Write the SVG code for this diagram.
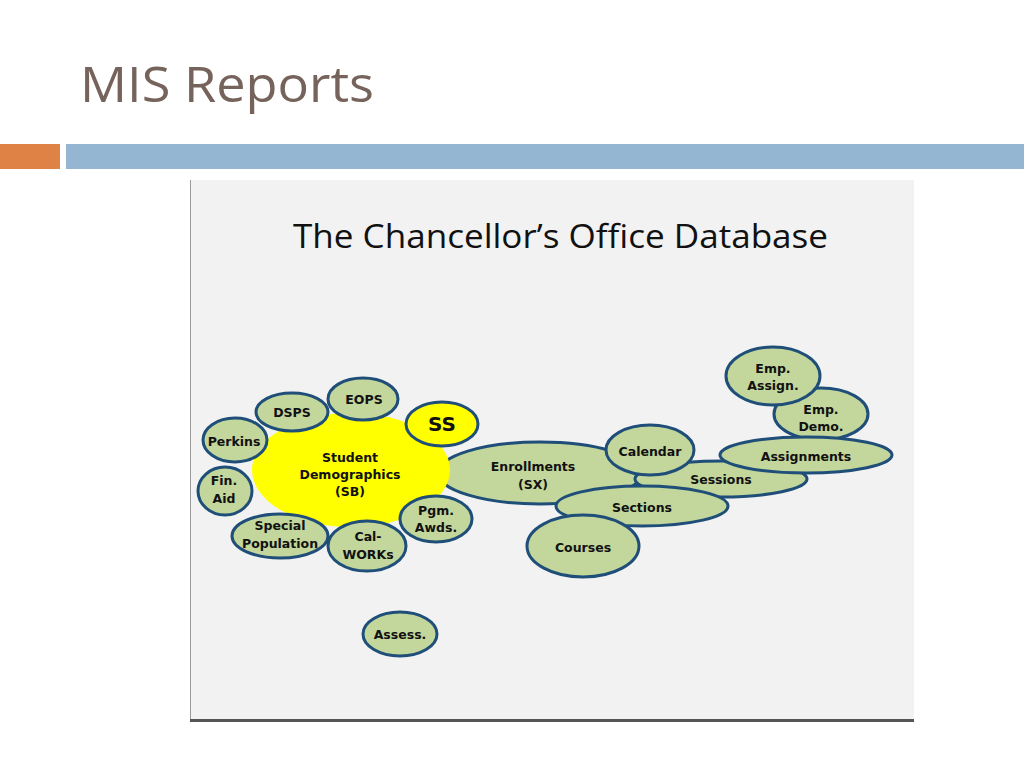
<svg xmlns="http://www.w3.org/2000/svg" width="1024" height="768" viewBox="0 0 1024 768">
<style>
.n{fill:#c3d69b;stroke:#1f4e79;stroke-width:3}
.y{fill:#ffff00;stroke:#1f4e79;stroke-width:3}
.t{font-family:"DejaVu Sans",Verdana,sans-serif;font-weight:bold;font-size:12.5px;fill:#111;text-anchor:middle}
</style>
<rect width="1024" height="768" fill="#ffffff"/>
<text x="80" y="102" font-family="'Open Sans','Noto Sans',sans-serif" font-size="50" fill="#76635b" textLength="294" lengthAdjust="spacingAndGlyphs">MIS Reports</text>
<rect x="0" y="144" width="60" height="25" fill="#de8246"/>
<rect x="66" y="144" width="958" height="25" fill="#94b6d2"/>
<rect x="190" y="180" width="724" height="541" fill="#f2f2f2"/>
<line x1="190.5" y1="180" x2="190.5" y2="720" stroke="#9a9a9a" stroke-width="1"/>
<rect x="190" y="719" width="724" height="3" fill="#555555"/>
<text x="293" y="248" font-family="'Open Sans','Liberation Sans',sans-serif" font-size="33" fill="#111" textLength="535" lengthAdjust="spacingAndGlyphs">The Chancellor’s Office Database</text>
<g id="connectors"></g>
<g id="enrollments"><ellipse class="n" cx="540" cy="473" rx="102" ry="31"/><text class="t" x="533" y="471">Enrollments</text><text class="t" x="533" y="489">(SX)</text></g>
<g id="student-demographics"><ellipse cx="351" cy="470" rx="99" ry="57" fill="#ffff00"/><text class="t" x="350" y="462">Student</text><text class="t" x="350" y="479">Demographics</text><text class="t" x="350" y="496">(SB)</text></g>
<g id="dsps"><ellipse class="n" cx="292" cy="412" rx="36" ry="19"/><text class="t" x="292" y="417">DSPS</text></g>
<g id="eops"><ellipse class="n" cx="363" cy="399" rx="35" ry="21"/><text class="t" x="364" y="404">EOPS</text></g>
<g id="perkins"><ellipse class="n" cx="235" cy="440" rx="32" ry="22"/><text class="t" x="234" y="446">Perkins</text></g>
<g id="fin-aid"><ellipse class="n" cx="225" cy="491" rx="27" ry="24"/><text class="t" x="224" y="485">Fin.</text><text class="t" x="224" y="503">Aid</text></g>
<g id="special-population"><ellipse class="n" cx="280" cy="536" rx="48" ry="22"/><text class="t" x="280" y="530">Special</text><text class="t" x="280" y="548">Population</text></g>
<g id="cal-works"><ellipse class="n" cx="367" cy="546" rx="39" ry="25"/><text class="t" x="368" y="541">Cal-</text><text class="t" x="368" y="559">WORKs</text></g>
<g id="pgm-awds"><ellipse class="n" cx="436" cy="519" rx="36" ry="23"/><text class="t" x="436" y="515">Pgm.</text><text class="t" x="436" y="532">Awds.</text></g>
<g id="ss"><ellipse class="y" cx="442" cy="424" rx="36" ry="22"/><text class="t" x="442" y="431" style="font-size:20px">SS</text></g>
<g id="sessions"><ellipse class="n" cx="721" cy="479" rx="86" ry="18"/><text class="t" x="721" y="484">Sessions</text></g>
<g id="calendar"><ellipse class="n" cx="650" cy="450" rx="44" ry="25"/><text class="t" x="650" y="456">Calendar</text></g>
<g id="sections"><ellipse class="n" cx="642" cy="506" rx="86" ry="20"/><text class="t" x="642" y="512">Sections</text></g>
<g id="courses"><ellipse class="n" cx="583" cy="546" rx="56" ry="31"/><text class="t" x="583" y="552">Courses</text></g>
<g id="emp-demo"><ellipse class="n" cx="821" cy="414" rx="47" ry="26"/><text class="t" x="821" y="414">Emp.</text><text class="t" x="821" y="431">Demo.</text></g>
<g id="emp-assign"><ellipse class="n" cx="773" cy="376" rx="47" ry="29"/><text class="t" x="773" y="373">Emp.</text><text class="t" x="773" y="390">Assign.</text></g>
<g id="assignments"><ellipse class="n" cx="806" cy="455" rx="86" ry="18"/><text class="t" x="806" y="461">Assignments</text></g>
<g id="assess"><ellipse class="n" cx="400" cy="634" rx="37" ry="22"/><text class="t" x="400" y="639">Assess.</text></g>
</svg>
